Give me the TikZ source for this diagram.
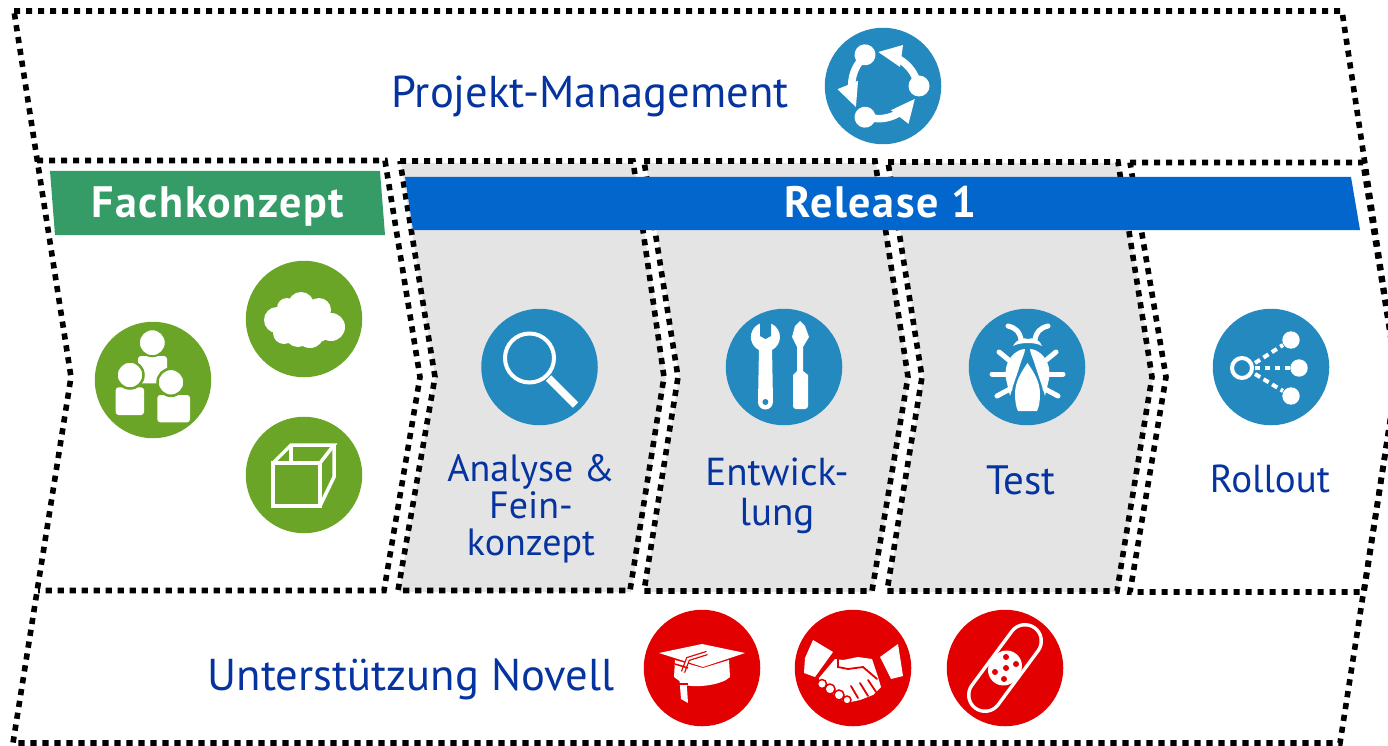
\documentclass[tikz,border=0pt]{standalone}
\usepackage{fontspec}
\setmainfont{PT Sans}
\definecolor{navytext}{HTML}{05339F}
\definecolor{bandblue}{HTML}{0366CC}
\definecolor{bandgreen}{HTML}{359C68}
\definecolor{icblue}{HTML}{2389BF}
\definecolor{icgreen}{HTML}{6AA527}
\definecolor{icred}{HTML}{E30000}
\definecolor{panel}{HTML}{E4E4E4}
\tikzset{
  dotline/.style={draw=black,line width=5.6pt,dash pattern=on 6.2pt off 5.8pt},
  panelfill/.style={fill=panel},
  disc/.style={circle,inner sep=0pt,minimum size=116.5pt},
  bluedisc/.style={disc,fill=icblue},
  greendisc/.style={disc,fill=icgreen},
  reddisc/.style={disc,fill=icred},
  bigtext/.style={text=navytext,font=\fontsize{44.6}{46}\selectfont,anchor=base},
  midtext/.style={text=navytext,font=\fontsize{38}{37}\selectfont,align=center},
  bandtext/.style={text=white,font=\fontsize{44}{46}\selectfont\bfseries\addfontfeatures{LetterSpace=3.5},anchor=base},
  wl/.style={draw=white,line width=#1},
  wf/.style={fill=white},
}
\begin{document}
\begin{tikzpicture}[x=1pt,y=-1pt]
\useasboundingbox (0,0) rectangle (1388,746);
\clip (0,0) rectangle (1388,746);
% grey panels
\fill[panelfill] (401,163) -- (634,163) -- (666,377) -- (631,592) -- (399,592) -- (435,377) -- cycle;
\fill[panelfill] (646,163) -- (876,163) -- (909,377) -- (873,592) -- (645,592) -- (679,377) -- cycle;
\fill[panelfill] (890,163) -- (1119,163) -- (1153,377) -- (1118,592) -- (888,592) -- (923,377) -- cycle;
% dotted chevrons
\draw[dotline] (14,11) -- (1342,11) -- (1397,377) -- (1340,743) -- (13,743) -- (71,377) -- cycle;
\draw[dotline] (37,160.5) -- (385,160.5) -- (420,377) -- (384,590.5) -- (38,590.5);
\draw[dotline] (400,161) -- (633,161) -- (664,377) -- (630,590.5) -- (398,590.5) -- (435,377) -- cycle;
\draw[dotline] (644,161) -- (875,161) -- (908,377) -- (872,591) -- (644,591) -- (678,377) -- cycle;
\draw[dotline] (888,162) -- (1118,162) -- (1152,377) -- (1117,591) -- (887,591) -- (922,377) -- cycle;
\draw[dotline] (1130,162.5) -- (1363,162.5) -- (1397,377) -- (1364,592) -- (1130,592) -- (1166,377) -- cycle;
% bands
\fill[bandgreen] (50,171) -- (380,171) -- (385,235) -- (55,235) -- cycle;
\fill[bandblue] (405,177) -- (1351,177) -- (1360,230) -- (413,230) -- cycle;
\node[bandtext] (fach) at (218,217) {Fachkonzept};
\node[bandtext] (release) at (880.5,217) {Release 1};
% titles
\node[bigtext] (pm) at (590,108) {Projekt-Management};
\node[bigtext] (un) at (411,690) {Unterstützung Novell};
\node[midtext] (analyse) at (531,509) {Analyse \&\\Fein-\\konzept};
\node[midtext,font=\fontsize{39}{40}\selectfont] (entw) at (777,496) {Entwick-\\lung};
\node[midtext,font=\fontsize{41}{41}\selectfont] (test) at (1021,480) {Test};
\node[midtext,font=\fontsize{39}{39}\selectfont] (roll) at (1270,479) {Rollout};
% discs
\node[bluedisc] (dpm) at (883,86) {};
\node[greendisc] (dpeople) at (153,380) {};
\node[greendisc] (dcloud) at (304,319) {};
\node[greendisc] (dcube) at (304,475) {};
\node[bluedisc] (dlens) at (539.5,367) {};
\node[bluedisc] (dtools) at (784,367) {};
\node[bluedisc] (dbug) at (1027,367) {};
\node[bluedisc] (droll) at (1271,367) {};
\node[reddisc] (dcap) at (702,668) {};
\node[reddisc] (dshake) at (853,668) {};
\node[reddisc] (dplaster) at (1005,668) {};
% cycle icon
\foreach \a in {0,120,240}{
\begin{scope}[shift={(883,86)},rotate=\a]
  \fill[white] (36,0) circle (10.5);
  \draw[wl=7.5pt] (34,-4) .. controls (31,-15) and (23,-24) .. (12,-29);
  \fill[white] (-4.7,-34) -- (20,-41) -- (17,-19) -- cycle;
\end{scope}}
% people icon
\begin{scope}[shift={(153,380)}]
  \fill[white,rounded corners=3pt] (-15,-24) -- (14,-24) -- (14,3.3) -- (-15,3.3) -- cycle;
  \filldraw[fill=white,draw=icgreen,line width=2pt] (-0.7,-37.3) circle (13.5);
  \fill[white,rounded corners=3pt] (-37.3,35) -- (-37.3,7.3) -- (-9,7.3) -- (-9,35) -- cycle;
  \fill[white,rounded corners=3pt] (4.3,42.3) -- (4.3,15) -- (37,15) -- (37,42.3) -- cycle;
  \filldraw[fill=white,draw=icgreen,line width=2.5pt] (-23,-5) circle (13.5);
  \filldraw[fill=white,draw=icgreen,line width=2.5pt] (18,2.3) circle (13.5);
\end{scope}
% cloud icon
\begin{scope}[shift={(304,319)}]
  \fill[white] (-27,1) circle (13) (-17,-11) circle (10) (-3,-14) circle (13) (15,-9) circle (12)
    (27,8) circle (14) (-20,14) circle (11) (-6,15) circle (13) (6,15) circle (14) (15,13) circle (10) (0,0) circle (18) (-15,2) circle (12) (14,2) circle (12);
\end{scope}
% cube icon
\begin{scope}[shift={(304,475)}]
  \draw[wl=3.5pt] (-31,-12) rectangle (16,31);
  \draw[wl=3.5pt,line join=miter] (-31,-12) -- (-13,-30) -- (30,-30) -- (16,-12);
  \draw[wl=3.5pt] (30,-30) -- (30,2) -- (16,31);
  \draw[wl=3.5pt] (-13,-30) -- (-13,-12);
\end{scope}
% lens icon
\begin{scope}[shift={(539.5,367)}]
  \draw[wl=4pt] (-10,-9) circle (24.5);
  \draw[wl=7.5pt] (9,11) -- (36,38);
\end{scope}
% tools icon
\begin{scope}[shift={(784,367)}]
  \fill[white] (-18.6,-30) circle (14.5);
  \fill[icblue] (-24,-46) -- (-13,-46) -- (-13,-31) -- (-18.6,-28) -- (-24,-31) -- cycle;
  \fill[white] (-25,-20) -- (-12,-20) -- (-11,35) -- (-26,35) -- cycle;
  \fill[white] (-18.6,35) circle (7.5);
  \fill[icblue] (-18.6,35) circle (3);
  \fill[white] (16,-46) -- (21,-41) -- (25,-30) -- (19,-20) -- (19,4) -- (24,8) -- (24,38) [rounded corners=3pt] -- (24,42) -- (9,42) [sharp corners] -- (9,8) -- (13,4) -- (13,-20) -- (8,-30) -- (11,-41) -- cycle;
\end{scope}
% bug icon
\begin{scope}[shift={(1027,367)}]
  \fill[white] (-14,-21) .. controls (-10,-28) and (-4,-30) .. (1,-28) .. controls (6,-30) and (12,-28) .. (15,-21) .. controls (9,-25) and (-7,-25) .. (-14,-21) -- cycle;
  \draw[wl=5pt,line cap=round] (-19,-41) .. controls (-11,-39) and (-7,-35) .. (-6,-27);
  \draw[wl=5pt,line cap=round] (21,-41) .. controls (13,-39) and (9,-35) .. (8,-27);
  \fill[white] (-2,-18) .. controls (-10,-18) and (-24,-8) .. (-21,12) -- (-17,29) .. controls (-14,18) and (-10,8) .. (-7,-2) .. controls (-5,-9) and (-2,-14) .. (-2,-18) -- cycle;
  \fill[white] (3,-18) .. controls (11,-18) and (25,-8) .. (22,12) -- (18,29) .. controls (15,18) and (11,8) .. (8,-2) .. controls (6,-9) and (3,-14) .. (3,-18) -- cycle;
  \draw[wl=5pt,line cap=round] (-28,-15) -- (-17,-6);
  \draw[wl=5pt,line cap=round] (-35,7) -- (-18,7);
  \draw[wl=5pt,line cap=round] (-30,29) -- (-17,22);
  \draw[wl=5pt,line cap=round] (29,-15) -- (18,-6);
  \draw[wl=5pt,line cap=round] (36,7) -- (19,7);
  \draw[wl=5pt,line cap=round] (31,29) -- (18,22);
  \fill[white] (0.5,-4) .. controls (6,4) and (13,14) .. (13,27) .. controls (13,34) and (12,40) .. (10,44) -- (-9,44) .. controls (-11,40) and (-12,34) .. (-12,27) .. controls (-12,14) and (-5,4) .. (0.5,-4) -- cycle;
\end{scope}
% rollout icon
\begin{scope}[shift={(1271,367)}]
  \draw[wl=4pt] (-29,1) circle (10);
  \fill[white] (20,-27) circle (8.7) (28,1) circle (8.7) (20,29) circle (8.7);
  \draw[wl=4pt,dash pattern=on 6pt off 4pt] (-16,-4) -- (12,-22);
  \draw[wl=4pt,dash pattern=on 5pt off 5pt] (-16,1) -- (19,1);
  \draw[wl=4pt,dash pattern=on 6pt off 4pt] (-16,7) -- (12,24);
\end{scope}
% cap icon
\begin{scope}[shift={(702,668)}]
  \fill[white] (-27,-8) -- (1,0) -- (27,-8) -- (28,9) .. controls (20,17) and (-5,20) .. (-17,17) -- (-28,9) -- cycle;
  \fill[white] (-43,-15) -- (0,-24) -- (43,-15) -- (1,-1) -- cycle;
  \draw[icred,line width=4.5pt] (5,-15) -- (-14,-9) -- (-19,4);
  \draw[wl=2pt] (5,-15) -- (-14,-9) -- (-19,4);
  \draw[icred,line width=1.5pt] (-27,-4) -- (-14,0);
  \fill[white] (-23,5) -- (-16,5) -- (-14,35) -- (-21,31) -- cycle;
  \draw[icred,line width=1.5pt] (-24,16) -- (-14,16);
\end{scope}
% handshake icon
\begin{scope}[shift={(853,668)}]
  \fill[white] (-40,-28) -- (-20,-16) -- (-38,9) -- (-49,5) -- (-48,-10) -- cycle;
  \fill[white] (45,-24) -- (50,8) -- (38,11) -- (27,-11) -- cycle;
  \fill[white] (-18,-9) -- (-34,10) -- (-33,17) -- (-7,35) -- (7,32) -- (20,27) -- (28,19) -- (25,9) -- (19,-9) -- (5,-11) -- (-10,-8) -- cycle;
  \draw[icred,line width=1.8pt,line cap=round] (-15,-9) -- (-15,-1) -- (-5,1) -- (10,-1) -- (24,11);
  \draw[icred,line width=1.8pt,line cap=round] (-2,18) -- (5,30);
  \draw[icred,line width=1.8pt,line cap=round] (7,15) -- (15,28);
  \draw[icred,line width=1.8pt,line cap=round] (15,12) -- (23,24);
  \filldraw[fill=white,draw=icred,line width=1.5pt] (-31,16) circle (4.5) (-23,21) circle (5) (-14,27) circle (5) (-6,32) circle (4);
\end{scope}
% plaster icon
\begin{scope}[shift={(1005,668)}]
  \draw[white,line width=36pt,line cap=round] (20,-27) -- (-20,27);
  \draw[icred,line width=29pt,line cap=round] (20,-27) -- (-20,27);
  \draw[white,line width=31pt,line cap=round] (1.5,-2) -- (-1.5,2);
  \fill[icred] (1,-11) circle (3) (-10,4) circle (3) (1,0) circle (3) (11,-4) circle (3) (-1,11) circle (3);
\end{scope}
\end{tikzpicture}
\end{document}
